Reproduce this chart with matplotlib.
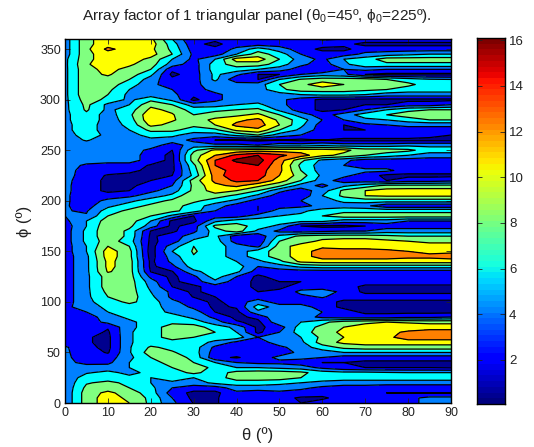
import numpy as np
import matplotlib
matplotlib.use("Agg")
import matplotlib.pyplot as plt

plt.rcParams['font.family'] = ['Liberation Sans', 'DejaVu Sans']
plt.rcParams['mathtext.fontset'] = 'custom'
plt.rcParams['mathtext.rm'] = 'Liberation Sans'
plt.rcParams['mathtext.it'] = 'Liberation Sans'
plt.rcParams['mathtext.bf'] = 'Liberation Sans'

theta = list(range(0, 95, 5))
phi = list(range(360, -5, -5))
x_ticks = [0, 10, 20, 30, 40, 50, 60, 70, 80, 90]
y_ticks = [0, 50, 100, 150, 200, 250, 300, 350]
cbar_ticks = [2, 4, 6, 8, 10, 12, 14, 16]
levels = [0, 2, 4, 6, 8, 10, 12, 14, 16, 18]
fill_colors = ['#00008f', '#0000ff', '#0080ff', '#00ffff', '#80ff80',
               '#ffff00', '#ff8000', '#ff0000', '#800000']

af = [
[5,9.5,11,11,10.5,6,2,2.5,3,3, 2.5,3,4.3,4,3,3,3,3,3],
[5,9.5,11,11.5,11,7,2.5,1.5,3,3, 3,3,3,2.5,1.5,1.5,1.5,1.5,1.5],
[5,9.5,12.5,11,10.5,7.5,3,2.5,4.5,7, 5,3,1.5,1.5,3,3,3,3,3],
[5,9.5,11,11,10.8,8,3.5,3,6,9, 7,4,3,3,4.5,5,5.5,6,6],
[5.5,9.5,11,11,9.5,6,3.5,6,11,11, 8,5,3.5,6,7,9,9,9,9],
[5.5,9.8,11,10.3,9,5,3,7,9,9, 7,4.5,3,5.5,7.5,7.5,7.5,7.5,7.5],
[5.5,9.5,10.5,9.5,8,2.5,3,7,7,6, 5,3,2,4,4.5,4,4,4,4],
[5.5,9.5,10.2,9,6.5,1.5,3,6.5,4.5,2, 2,4,5,4.5,2,1.5,1.5,1.5,1.5],
[5.5,9.5,9.5,8,5,2.5,3,6.5,2.5,2, 6,8.2,9,9,9,8,7,6.2,6],
[5.5,9.5,9,7,4.5,3,3.5,5,5,5, 8,9.5,11,10,9,9,8.5,7,7],
[5.5,9.5,8.5,6,5,4,3,4.8,5,5, 7.5,9,9,9,8.5,8,7,7,7],
[5.5,9.5,8,5.5,5,4.5,2.5,3.5,5,5, 5,6,6.5,6.5,6,5,5,5,5],
[5.5,9,7.5,5.5,7.5,5.5,1.5,3.5,5,5, 4.5,3,1.5,1.5,1.5,1.5,1.5,1.5,1.5],
[5.5,8.5,5.5,6,9.5,8,5,5,6,6.5, 4.5,3,1.5,1.5,2,2,3,3,4],
[5.5,8.3,5.5,7,10.5,9.5,7,7.5,8,8.5, 5.5,3,1.5,2,4,6,7.5,8,8],
[5.5,7.5,5,7.5,11.5,10.2,8,9,9.5,10.5, 8,5,3,5,7,8,9,9,9],
[5.5,7.5,5,7,11.5,10.2,9,10.5,11.5,12.5, 9.5,7,4,4,5.5,6,7,8,8],
[5.5,7,5,6.5,10.5,9.5,8.5,10,12.5,13, 10,6.5,3,2,3.5,4,4.5,4.5,4.5],
[5.5,7,5,6,8.5,8.5,7,7.5,10.5,11.5, 8,5.5,3,2,2,2.5,3,3,3],
[5,7,5.5,5.3,6.7,6.5,5,5,6.5,8, 5,4,2.5,3,3,3,3,2.5,2],
[5,6.2,5,5,5.5,5,3.5,2,2,1.5, 2,1.5,2,1.5,1.5,1.5,1.5,1.5,1.5],
[5,5,5,5,5,3,5,4.5,4.5,4, 5,5,5.5,5,5,5,5.5,5.5,5.5],
[5,5,5,5,3.5,2,7.5,10.5,10.5,11, 11,11,11,10.5,9,9,8.5,7,7],
[5,5,5,5,3,1.5,9,12,14.5,16, 14.5,13,10.5,9.5,8,7,6,5,5],
[5,5,5,5,3,1.5,9,14,16.5,17, 13,8.5,5.5,4.5,3,3,3,3,3],
[5,3.6,3,3,1.8,1.5,7.5,14,15,16, 12.5,7.5,5,4,3,3,3,3,3],
[5,3,3,2.5,1.5,1.5,7,13.5,14.5,15, 12.5,8,5,5,4.5,4.5,3,3,3],
[4.8,3,1.8,1.5,1.5,2,6.5,13,15.5,15, 12,9,5.5,4.5,3,1.5,1.5,1.5,1.5],
[4.5,3,1.5,1.5,2,3,9,12.5,14.5,14, 11,8,5,3,3,2,3,3,3.5],
[4.4,3,1.5,1.5,3,4,8.5,11.5,12.5,10.5, 8.5,5,3.5,5.5,7,8.5,8.5,8.5,8.5],
[4.4,3,1.5,2,3.5,5,8.5,11,10,8, 4.5,3,5,8.5,10,10.8,11,11,11],
[4.3,3,3,3.5,5,6.5,10,9,7.5,5.5, 3,2.5,6,8.5,10,10.3,10.3,10.3,10.3],
[4.3,3,4.5,5.5,7,8.5,8.5,7,5.5,3, 3,4,5,6.5,7,7,7,7,7],
[4.2,3.2,5.5,7,8.5,9,7,5,3,2, 3,3.5,4.5,5,4.5,2.5,2.5,2.5,2.5],
[4.1,3.8,7,8.5,9,8.5,7,4,3,2, 5,5.5,7,7.5,7.5,7.5,7.5,7.5,7.5],
[4,4.2,8,9,8,5.5,2,3,3,5, 6,6.5,8,9,9,9,9,9,9],
[3.5,6,9,9,6,1.5,1.5,5.5,7,7, 7,6.5,6.5,5,5,5,4,4,4],
[3,6,9.5,8.5,5,1.5,3,8.5,9,7, 5.5,2,1.5,1.5,2,3,3,3,3],
[3,6.5,9.5,7.5,1.9,1.6,3.5,7,9,5.5, 3.5,3,3.5,4,4,5,5,5,5],
[3,6.5,9.5,7.5,1.6,3,5,6.5,3,2.5, 6.5,8.5,9,9,9,8.5,8,8,8],
[3,6.5,9,7,1.5,3,6.5,7,3,2.5, 8,9,10.5,11,11,10.5,10,9.5,9.5],
[3,6,10,8,1.2,5,8,7,5,3.5, 9,11,11.5,11,11,11,11,11,11],
[3,6,11,8.7,1,6,8.2,7,5,7, 9,11,13,13,13,12.5,12,11.5,11.5],
[3,5.5,11,8.7,1.2,5,7.9,7,5,7, 9,11,13,13,13,13,12.5,12.5,13],
[3,5.5,10.5,9,1.5,4.5,7.5,7,6,5.5, 7.5,10.5,11,11,11,11,11,11,11],
[3,5.5,10.5,9,1.5,3.5,7,7,7,4, 5,6.5,7,7,7,7,7,7,7],
[3,5.5,10.2,9,1.9,1.9,5.5,7,6.5,3, 3,3,3,3,3,3,3,3,3],
[3,5.5,9,9,3.5,1.5,3.5,7,4,1.5, 3,3,3,2,3,3,3,3,3],
[3,5.5,9,9,5,1.5,3,5.5,3,1.5, 2,2,2.5,3,3,3,3,3,3],
[3,5.5,9,9,5.5,2,1.5,3,3,1.5, 1.5,3,3,3,1.5,1.5,1.5,1.5,1.5],
[3,5.5,8.5,9,6,3.5,1.5,3,3,2, 2.5,4.5,5,3.5,1.5,1.5,1.5,1.5,1.5],
[3,5.5,8,9,6.5,3.5,1.9,2,3.5,3, 3,3.5,4.2,3,3,3,3,3,3],
[3,5.5,7,8.5,7,4.5,3,1.5,3,5, 3,3,3,1.5,1.5,1.5,1.5,1.5,1.5],
[3.5,5,6.5,7,6.5,5.5,3.5,1.6,2.2,7, 5,5,3,1.5,1.5,1.5,1.5,1.5,1.5],
[3,4,6,7,7,5.5,5,2,1.5,5.5, 6,5,4,3,1.5,1.5,1.5,1.5,1.5],
[3,3,5,6.5,7,7,5.5,3.5,1.5,2.5, 6,5,3.5,3,3,3,3.5,3.5,4],
[3,3,4.5,5.5,7,7.5,7,5,2.2,1.5, 5.5,6,7.5,9,9.5,10,9.8,9.5,9.5],
[3,3,2.2,5.5,7,9,9,7,5.5,1.5, 3,7,8.5,10,11,11,11,11,11],
[3,3,1.7,5.8,7,9,9,8,6,1.5, 4,7,9,10.5,11.5,11.5,12.3,13,13],
[3,2.2,1.5,5.8,7,9,8,7,7,4, 4.5,6,8.5,10,11,11.5,13,13,13],
[3,2.2,1.5,5.8,7,7,7,5.5,3.5,3, 5,5.5,9,10.5,11,11,11,11,11],
[4.3,2.5,1.5,5.8,8.3,7.5,7,3.5,3,3, 3.5,5,7,8.5,9,9,9,9,9],
[4.3,3,1.8,5.8,9,8.2,7,3,3,3, 3,4.5,5,6,6,6,6,6,6],
[4.3,3.3,3,5.5,8,9,7.5,2.5,1.8,3, 4.5,4.5,4,3,3,3,3,3,3],
[4.3,3.7,3.5,6,7,9,8,6,4,3.5, 3.5,3,2,2,1.5,1.5,1.5,1.5,1.5],
[4.3,4.5,5,6,7,8,9,7.5,6,6, 5.5,5,3.5,2.5,2,2,2,2,1.8],
[4.5,5.8,6.5,5.5,6.5,7,8.5,7,8.7,9, 9,8.5,7,6.5,6.5,6.2,6,6,6],
[4.5,7,7,6.5,6,6.5,6,7,9,9, 9,8,7,7,7,7,7,7,7],
[4.5,7.8,8.5,7.5,6,5.8,5,6.5,7,7, 6.5,6,5.5,5,5,5,5,5,5],
[4.5,8.5,9,8,6.5,4,3,3,5,5, 5,4.5,3.5,3,3,2.5,2.5,2.5,2.5],
[4.5,9,10.5,9,7,3,1.5,1.5,3.5,3, 3.5,3,2.5,2.5,2.5,2,2,2,2],
[4.5,9,11,9.5,7.5,4,1.5,1.8,3,3, 2.5,1.8,1.8,2.5,3,3,3.5,4.5,4.5],
[4.5,9,11,10,7.5,4.5,1.9,1.8,3,3, 2.5,2,2.5,3,3,3,3.5,4.5,4.5],
]

W, H = 534, 447
fig = plt.figure(figsize=(W / 100, H / 100), dpi=100)
ax = fig.add_axes([65 / W, 1 - 403 / H, (451 - 65) / W, (403 - 39) / H])
ax.contourf(theta, phi, af, levels=levels, colors=fill_colors)
ax.contour(theta, phi, af, levels=levels[1:-1], colors='k', linewidths=0.9)
ax.set_xlim(0, 90)
ax.set_ylim(0, 360)
ax.set_xticks(x_ticks)
ax.set_yticks(y_ticks)
ax.tick_params(direction='in', top=True, right=True, length=3.5, width=0.6,
               labelsize=9, pad=3, colors='#222222')
ax.set_xlabel('θ (º)', fontsize=12, labelpad=6, color='#222222')
ax.set_ylabel('ϕ (º)', fontsize=12, labelpad=6, color='#222222')
fig.text(257 / W, 1 - 16 / H,
         r'Array factor of 1 triangular panel ($\mathregular{\theta_0}$=45º, $\mathregular{\phi_0}$=225º).',
         ha='center', va='center', fontsize=11.1, color='#222222')
for s in ax.spines.values():
    s.set_linewidth(1.0)

cax = fig.add_axes([477 / W, 1 - 404 / H, 28 / W, 366 / H])
grad = np.linspace(0, 1, 64).reshape(-1, 1)
cax.imshow(grad, aspect='auto', origin='lower', cmap='jet', extent=[0, 1, 0.07, 16.1],
           interpolation='nearest')
cax.set_xticks([])
cax.yaxis.tick_right()
cax.set_yticks(cbar_ticks)
cax.tick_params(direction='in', left=True, right=True, length=3.5, width=0.6,
                labelsize=9.5, pad=3, colors='#222222')
for s in cax.spines.values():
    s.set_linewidth(1.0)

fig.savefig('out.png', dpi=100)
